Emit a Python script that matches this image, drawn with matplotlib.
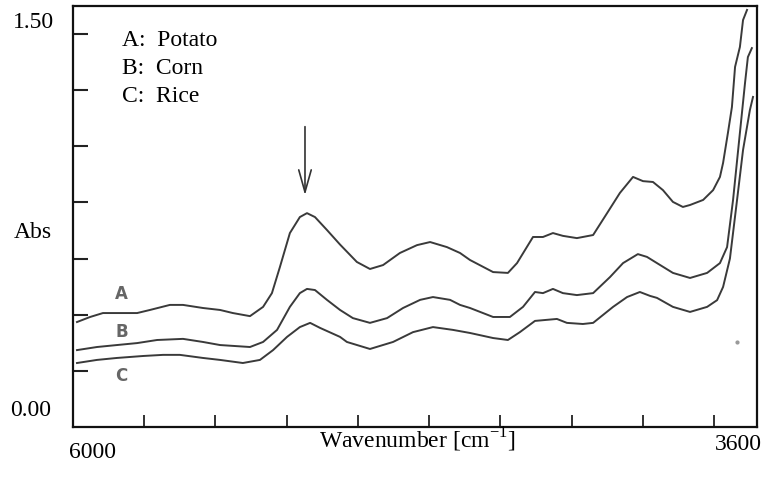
# NIR absorbance spectra of three starches (A: potato, B: corn, C: rice)
import matplotlib
matplotlib.use("Agg")
import matplotlib.pyplot as plt

plt.rcParams['font.family'] = ['Liberation Serif', 'DejaVu Serif']

# values (wavenumber in cm-1, absorbance)
wn_a = [5986, 5940, 5895, 5846, 5775, 5730, 5660, 5614, 5544, 5484, 5439, 5379,
        5333, 5302, 5274, 5239, 5204, 5179, 5151, 5109, 5063, 5004, 4958, 4912,
        4853, 4793, 4747, 4688, 4642, 4607, 4526, 4474, 4442, 4386, 4351, 4316,
        4281, 4232, 4175, 4126, 4081, 4035, 4000, 3965, 3930, 3895, 3860, 3835,
        3789, 3754, 3730, 3719, 3702, 3688, 3677, 3660, 3649, 3635]
abs_a = [0.374, 0.392, 0.406, 0.406, 0.406, 0.417, 0.435, 0.435, 0.424, 0.417,
         0.406, 0.395, 0.428, 0.477, 0.570, 0.691, 0.748, 0.762, 0.748, 0.702,
         0.650, 0.588, 0.563, 0.577, 0.620, 0.648, 0.659, 0.641, 0.620, 0.595,
         0.552, 0.549, 0.584, 0.677, 0.677, 0.691, 0.681, 0.673, 0.684, 0.762,
         0.834, 0.891, 0.876, 0.873, 0.844, 0.802, 0.784, 0.791, 0.809, 0.844,
         0.891, 0.941, 1.048, 1.140, 1.283, 1.354, 1.450, 1.486]

wn_b = [5986, 5916, 5846, 5775, 5705, 5614, 5544, 5484, 5439, 5379, 5333, 5284,
        5239, 5204, 5179, 5151, 5109, 5063, 5018, 4958, 4898, 4842, 4782, 4737,
        4677, 4642, 4607, 4526, 4467, 4421, 4379, 4351, 4316, 4281, 4232, 4175,
        4116, 4070, 4018, 3986, 3951, 3895, 3835, 3775, 3730, 3705, 3684, 3660,
        3642, 3632, 3618]
abs_b = [0.274, 0.285, 0.292, 0.299, 0.310, 0.314, 0.303, 0.292, 0.289, 0.285,
         0.303, 0.346, 0.428, 0.477, 0.492, 0.488, 0.453, 0.417, 0.388, 0.371,
         0.388, 0.424, 0.453, 0.463, 0.453, 0.435, 0.424, 0.392, 0.392, 0.428,
         0.481, 0.477, 0.492, 0.477, 0.470, 0.477, 0.534, 0.584, 0.616, 0.606,
         0.584, 0.549, 0.531, 0.549, 0.584, 0.641, 0.809, 1.048, 1.226, 1.318,
         1.350]

wn_c = [5986, 5916, 5846, 5754, 5684, 5625, 5544, 5484, 5404, 5344, 5298, 5249,
        5204, 5168, 5133, 5063, 5039, 4958, 4877, 4807, 4737, 4667, 4607, 4526,
        4474, 4432, 4379, 4302, 4267, 4211, 4175, 4105, 4056, 4011, 3975, 3951,
        3895, 3835, 3775, 3740, 3719, 3695, 3670, 3649, 3625, 3614]
abs_c = [0.228, 0.239, 0.246, 0.253, 0.257, 0.257, 0.246, 0.239, 0.228, 0.239,
         0.274, 0.321, 0.356, 0.371, 0.353, 0.321, 0.303, 0.278, 0.303, 0.338,
         0.356, 0.346, 0.335, 0.317, 0.310, 0.338, 0.378, 0.385, 0.371, 0.367,
         0.371, 0.428, 0.463, 0.481, 0.467, 0.460, 0.428, 0.410, 0.428, 0.452,
         0.499, 0.600, 0.809, 0.987, 1.129, 1.176]

samples = ["A:  Potato", "B:  Corn", "C:  Rice"]
yticks = [0.2, 0.4, 0.6, 0.8, 1.0, 1.2, 1.4]
xticks = [5750, 5500, 5250, 5000, 4750, 4500, 4250, 4000, 3750]

W, H = 768, 479
fig = plt.figure(figsize=(W / 100, H / 100), dpi=100)
ax = fig.add_axes([73 / W, 1 - 427 / H, 684 / W, 421 / H])

line_col = '#3a3a3a'
for wn, ab in [(wn_a, abs_a), (wn_b, abs_b), (wn_c, abs_c)]:
    ax.plot(wn, ab, color=line_col, lw=1.4)

ax.set_xlim(6000, 3600)
ax.set_ylim(0, 1.5)
ax.set_yticks(yticks)
ax.set_xticks(xticks)
ax.tick_params(axis='y', direction='in', length=11, width=1.5, labelleft=False, color='#222')
ax.tick_params(axis='x', direction='in', length=9, width=1.3, labelbottom=False, color='#222')
for s in ax.spines.values():
    s.set_linewidth(1.6)
    s.set_color('#111')

# curve letters
for lab, yv in zip(["A", "B", "C"], [0.475, 0.34, 0.18]):
    ax.text(5830, yv, lab, color='#666', fontsize=12, fontweight='bold',
            family=['Liberation Sans Narrow', 'DejaVu Sans'], ha='center', va='center')

# arrow marking the 5200 cm-1 band
ax.annotate('', xy=(5186, 0.816), xytext=(5186, 1.08),
            arrowprops=dict(arrowstyle='->,head_length=1.6,head_width=0.45',
                            color='#333', lw=1.2))

# small speck in the original
ax.plot([3670], [0.303], 'o', color='#999', ms=2)

# legend block
for i, s in enumerate(samples):
    fig.text(122 / W, 1 - (40 + i * 28.5) / H, s, fontsize=17, va='center', ha='left')

fig.text(33 / W, 1 - 22 / H, "1.50", fontsize=17, ha='center', va='center')
fig.text(33 / W, 1 - 232 / H, "Abs", fontsize=17, ha='center', va='center')
fig.text(31 / W, 1 - 411 / H, "0.00", fontsize=17, ha='center', va='center')
fig.text(92 / W, 1 - 453 / H, "6000", fontsize=17, ha='center', va='center')
fig.text(738 / W, 1 - 444 / H, "3600", fontsize=17, ha='center', va='center')
fig.text(417 / W, 1 - 440 / H, "Wavenumber [cm$^{\\mathregular{-1}}$]",
         fontsize=17, ha='center', va='center')

fig.savefig("out.png", dpi=100)
